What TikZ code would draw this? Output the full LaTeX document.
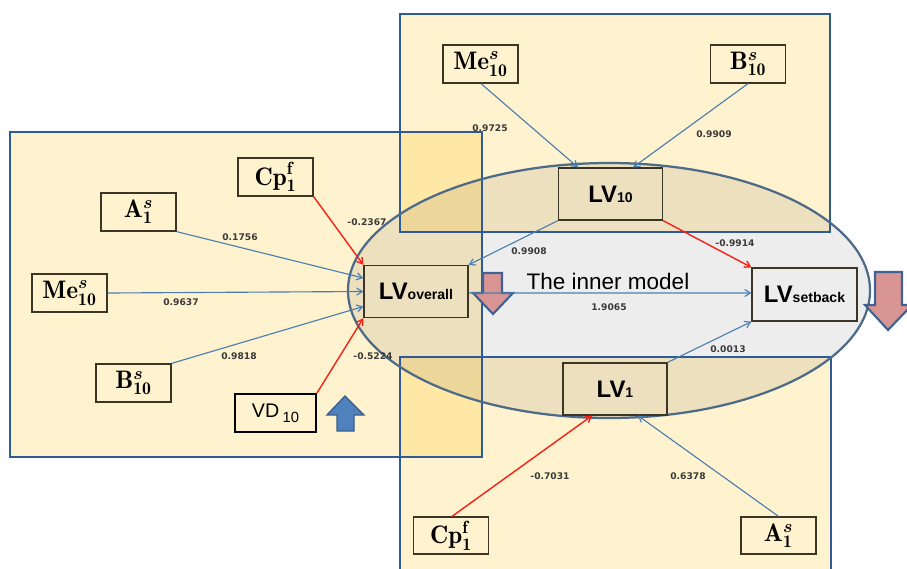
\documentclass[tikz,border=0pt]{standalone}
\usepackage{fix-cm}
\usepackage{amsmath}
\usepackage{bm}
\usepackage{fontspec}
\newfontfamily\arialf{Liberation Sans}
\newfontfamily\numf{DejaVu Sans}
\usetikzlibrary{arrows.meta}
\definecolor{rectfill}{HTML}{FFF2CE}
\definecolor{overfill}{HTML}{FFE7A6}
\definecolor{rectline}{HTML}{2F5A98}
\definecolor{elline}{HTML}{4D6B88}
\definecolor{boxline}{HTML}{3B3526}
\definecolor{redc}{HTML}{F5221A}
\definecolor{bluec}{HTML}{4A7EB2}
\definecolor{pinkf}{HTML}{D99594}
\definecolor{pinkline}{HTML}{3E6296}
\definecolor{upf}{HTML}{4F81BD}
\definecolor{upline}{HTML}{3A5F8F}
\definecolor{numc}{HTML}{3A3A3A}
\newcommand{\pxu}{0.025cm}
\tikzset{
  mbox/.style={draw=boxline, line width=0.9pt, minimum width=75*\pxu, minimum height=38*\pxu, inner sep=0pt,
    font=\fontsize{18}{21}\selectfont},
  lvbox/.style={draw=boxline, line width=0.9pt, minimum width=104*\pxu, minimum height=52*\pxu, inner sep=0pt,
    font=\arialf\bfseries\fontsize{17}{20}\selectfont},
  vdbox/.style={draw=black, line width=1.4pt, minimum width=81*\pxu, minimum height=38*\pxu, inner sep=0pt,
    font=\arialf\fontsize{14}{16}\selectfont},
  num/.style={font=\numf\bfseries\fontsize{6.5}{8}\selectfont, text=numc, inner sep=0pt},
  redarr/.style={draw=redc, line width=1pt, -{Straight Barb[length=4pt,width=5pt]}},
  bluearr/.style={draw=bluec, line width=0.8pt, -{Straight Barb[length=4pt,width=5pt]}},
  rectb/.style={draw=rectline, line width=1.6pt},
}
\newcommand{\lvsub}[1]{{\fontsize{10}{12}\selectfont #1}}
\begin{document}
\begin{tikzpicture}[x=0.025cm,y=-0.025cm]
\useasboundingbox (0,0) rectangle (907,568);
\clip (0,0) rectangle (907,568);
% rectangle fills
\fill[rectfill] (10,132) rectangle (482,457);
\fill[rectfill] (400,14) rectangle (830,232);
\fill[rectfill] (400,357) rectangle (831,600);
\fill[overfill] (400,132) rectangle (482,232);
\fill[overfill] (400,357) rectangle (482,457);
% ellipse fill
\fill[black, opacity=0.07] (609,290.5) ellipse [x radius=261, y radius=127.5];
% rectangle borders
\draw[rectb] (10,132) rectangle (482,457);
\draw[rectb] (400,14) rectangle (830,232);
\draw[rectb] (400,357) rectangle (831,600);
% ellipse border
\draw[elline, line width=1.6pt] (609,290.5) ellipse [x radius=261, y radius=127.5];
% pink arrows
\draw[pinkline, line width=1.5pt, fill=pinkf, line join=miter]
  (483,273) -- (502,273) -- (502,293) -- (513,293) -- (493,314) -- (473,293) -- (483,293) -- cycle;
\draw[pinkline, line width=1.5pt, fill=pinkf, line join=miter]
  (875,272) -- (902,272) -- (902,305) -- (912,305) -- (888,330) -- (865,305) -- (875,305) -- cycle;
% blue up arrow
\draw[upline, line width=1pt, fill=upf, line join=miter]
  (345,396) -- (364,415) -- (354,415) -- (354,431) -- (337,431) -- (337,415) -- (327,415) -- cycle;
% nodes
\node[mbox] (cpL) at (275.5,177) {$\mathbf{Cp}^{\mathbf{f}}_{\mathbf{1}}$};
\node[mbox] (aL) at (138.5,212) {$\mathbf{A}^{\bm{s}}_{\mathbf{1}}$};
\node[mbox] (meL) at (69.5,293) {$\mathbf{Me}^{\bm{s}}_{\mathbf{10}}$};
\node[mbox] (bL) at (133.5,383) {$\mathbf{B}^{\bm{s}}_{\mathbf{10}}$};
\node[vdbox] (vd) at (275.5,413) {VD\,\raisebox{-3.5pt}{\fontsize{10.5}{12}\selectfont 10}};
\node[lvbox] (lvo) at (416,291.5) {LV\lvsub{overall}};
\node[mbox] (meT) at (480.5,64) {$\mathbf{Me}^{\bm{s}}_{\mathbf{10}}$};
\node[mbox] (bT) at (748,64) {$\mathbf{B}^{\bm{s}}_{\mathbf{10}}$};
\node[lvbox] (lv10) at (610.5,194) {LV\lvsub{10}};
\node[lvbox, minimum width=105*\pxu, minimum height=53*\pxu] (lvs) at (804.5,294.5) {LV\lvsub{setback}};
\node[lvbox] (lv1) at (615,389) {LV\lvsub{1}};
\node[mbox, minimum height=37*\pxu] (cpB) at (451,535.5) {$\mathbf{Cp}^{\mathbf{f}}_{\mathbf{1}}$};
\node[mbox, minimum height=37*\pxu] (aB) at (778.5,535.5) {$\mathbf{A}^{\bm{s}}_{\mathbf{1}}$};
\node[font=\arialf\fontsize{16}{19}\selectfont, inner sep=0pt, anchor=base] (inner) at (608,289) {The inner model};
% connectors left
\draw[redarr] (cpL.south east) -- (lvo.north west);
\draw[bluearr] (aL.south east) -- ([shift={(0,-13.5)}]lvo.west);
\draw[bluearr] (meL.east) -- (lvo.west);
\draw[bluearr] (bL.north east) -- ([shift={(0,15)}]lvo.west);
\draw[redarr] (vd.north east) -- (lvo.south west);
% top
\draw[bluearr] ([shift={(0.5,0)}]meT.south) -- ([shift={(-32.5,0)}]lv10.north);
\draw[bluearr] (bT.south) -- ([shift={(22.5,0)}]lv10.north);
% inner
\draw[bluearr] (lv10.south west) -- (lvo.north east);
\draw[redarr] (lv10.south east) -- (lvs.north west);
\draw[bluearr] ([shift={(0,1.5)}]lvo.east) -- ([shift={(0,-1.5)}]lvs.west);
\draw[bluearr] (lv1.north east) -- (lvs.south west);
% bottom
\draw[redarr] ([shift={(1,0)}]cpB.north) -- ([shift={(-23,0)}]lv1.south);
\draw[bluearr] (aB.north) -- ([shift={(23,0)}]lv1.south);
% labels
\node[num] (n1) at (367,222) {-0.2367};
\node[num] (n2) at (240,237) {0.1756};
\node[num] (n3) at (181,302) {0.9637};
\node[num] (n4) at (239,356) {0.9818};
\node[num] (n5) at (373,356) {-0.5224};
\node[num] (n6) at (490,128) {0.9725};
\node[num] (n7) at (714,134) {0.9909};
\node[num] (n8) at (529,251) {0.9908};
\node[num] (n9) at (735,243) {-0.9914};
\node[num] (n10) at (609,307) {1.9065};
\node[num] (n11) at (728,349) {0.0013};
\node[num] (n12) at (550,476) {-0.7031};
\node[num] (n13) at (688,476) {0.6378};
\end{tikzpicture}
\end{document}
